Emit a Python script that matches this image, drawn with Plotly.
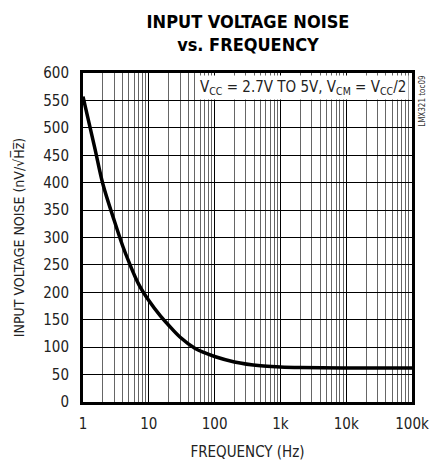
import plotly.graph_objects as go

freq_hz = [1, 1.5, 2, 3, 4, 5, 7, 10, 15, 20, 30, 50, 70, 100, 200, 500, 1000, 2000, 10000, 100000]
noise_nv = [557, 465, 398, 330, 285, 255, 215, 185, 157, 140, 118, 98, 90, 83, 73, 66, 64, 63, 62, 62]

x_tick_vals = [1, 10, 100, 1000, 10000, 100000]
x_tick_text = ["1", "10", "100", "1k", "10k", "100k"]
y_tick_vals = list(range(0, 601, 50))

FONT = "DejaVu Sans Condensed, Liberation Sans Narrow, sans-serif"

fig = go.Figure()
fig.add_trace(go.Scatter(
    x=freq_hz, y=noise_nv, mode="lines",
    line=dict(color="black", width=3.5, shape="spline", smoothing=1.0),
    showlegend=False, hoverinfo="skip"))

fig.update_layout(
    width=436, height=462,
    margin=dict(l=83, r=24, t=73, b=60),
    paper_bgcolor="white", plot_bgcolor="white",
    font=dict(family=FONT, size=15, color="#222"),
    title=dict(text="<b>INPUT VOLTAGE NOISE<br>vs. FREQUENCY</b>",
               x=248 / 436, xanchor="center", yref="container", y=1 - 28 / 462, yanchor="middle",
               font=dict(family=FONT, size=18, color="black")),
    xaxis=dict(type="log", range=[0, 5], tickvals=x_tick_vals, ticktext=x_tick_text,
               showgrid=True, gridcolor="black", gridwidth=1,
               minor=dict(dtick="D1", showgrid=True, gridcolor="#666", gridwidth=1, ticklen=0),
               showline=True, linecolor="black", linewidth=3, mirror=True,
               ticks="", zeroline=False, ticklabelstandoff=6, automargin=False,
               tickfont=dict(size=15),
               title=dict(text="FREQUENCY (Hz)", font=dict(size=15), standoff=15)),
    yaxis=dict(range=[0, 600], tickvals=y_tick_vals,
               showgrid=True, gridcolor="black", gridwidth=1,
               showline=True, linecolor="black", linewidth=3, mirror=True,
               ticks="", zeroline=False, ticklabelstandoff=8, automargin=False,
               tickfont=dict(size=15),
               title=dict(text="INPUT VOLTAGE NOISE (nV/√H̅z̅)", font=dict(size=14), standoff=16)),
)

fig.add_annotation(
    xref="paper", yref="paper", x=0.99, y=0.995, xanchor="right", yanchor="top",
    text="V<sub>CC</sub> = 2.7V TO 5V, V<sub>CM</sub> = V<sub>CC</sub>/2",
    showarrow=False, bgcolor="white", borderpad=2,
    font=dict(family=FONT, size=15, color="#222"))

fig.add_annotation(
    xref="paper", yref="paper", x=1.03, y=1.0, xanchor="center", yanchor="top",
    text="LMX321 toc09", textangle=-90, showarrow=False,
    font=dict(family=FONT, size=8, color="#333"))

fig.write_html("out.html", config={"displayModeBar": False},
               post_script="document.body.style.margin='0';")
